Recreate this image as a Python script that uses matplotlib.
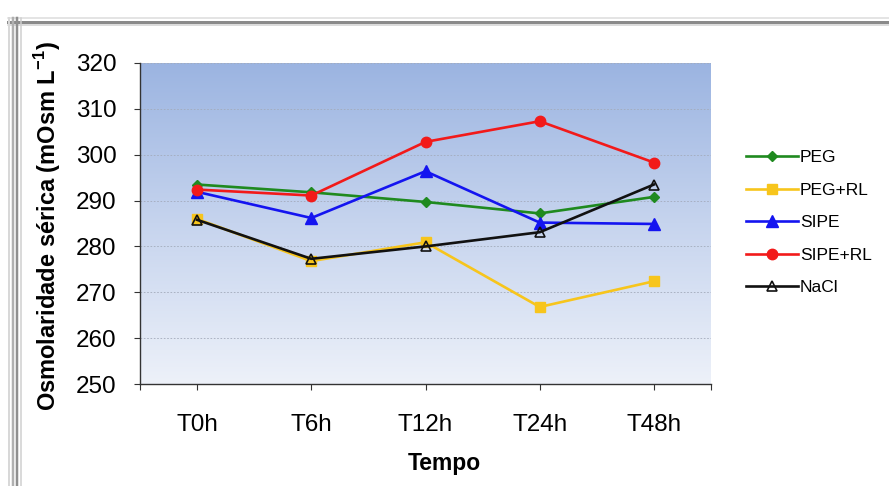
import numpy as np
import matplotlib
matplotlib.use("Agg")
import matplotlib.pyplot as plt
from matplotlib.lines import Line2D
from matplotlib.colors import LinearSegmentedColormap

plt.rcParams['font.family'] = ['Liberation Sans', 'DejaVu Sans']
plt.rcParams['mathtext.fontset'] = 'custom'
plt.rcParams['mathtext.rm'] = 'Liberation Sans'
plt.rcParams['mathtext.bf'] = 'Liberation Sans:bold'

# Data
categories = ["T0h", "T6h", "T12h", "T24h", "T48h"]
peg = [293.5, 291.8, 289.7, 287.2, 290.8]
peg_rl = [286.0, 276.8, 280.9, 266.8, 272.4]
sipe = [291.9, 286.2, 296.4, 285.2, 284.9]
sipe_rl = [292.4, 291.1, 302.8, 307.3, 298.3]
nacl = [285.8, 277.3, 280.0, 283.1, 293.5]
y_ticks = [250, 260, 270, 280, 290, 300, 310, 320]

W, H = 889, 486
fig = plt.figure(figsize=(W / 100, H / 100), dpi=100)
fig.patch.set_facecolor("white")


def fx(px):
    return px / W


def fy(py):
    return 1 - py / H


# Window-like frame (top and left bevel)
for yy, c, lw in [(18.5, "#dcdcdc", 1.5), (22, "#8a8a8a", 3.0), (25, "#d0d0d0", 1.5)]:
    fig.add_artist(Line2D([fx(8), 1], [fy(yy), fy(yy)], color=c, lw=lw * 0.72,
                          transform=fig.transFigure))
for xx, c, lw in [(9, "#d8d8d8", 2.0), (13, "#b0b0b0", 2.5), (17, "#8f8f8f", 2.5), (20.5, "#cfcfcf", 1.5)]:
    fig.add_artist(Line2D([fx(xx), fx(xx)], [fy(18), 0], color=c, lw=lw * 0.72,
                          transform=fig.transFigure))

left, right, top, bottom = 140, 711, 63, 384
ax = fig.add_axes([fx(left), fy(bottom), (right - left) / W, (bottom - top) / H])

x = np.arange(len(categories))
ax.set_xlim(-0.5, len(categories) - 0.5)
ax.set_ylim(250, 320)

# Background gradient inside the plot area
cmap = LinearSegmentedColormap.from_list("bg", ["#edf1f9", "#c6d4ee", "#9bb4e1"])
grad = np.linspace(0, 1, 256).reshape(-1, 1)
ax.imshow(grad, cmap=cmap, origin="lower", aspect="auto",
          extent=[-0.5, len(categories) - 0.5, 250, 320], zorder=0)

for yv in y_ticks[1:]:
    ax.axhline(yv, color="#a3abbb", lw=0.6, ls=(0, (2, 2)), zorder=1)

lw = 1.9
ax.plot(x, peg, color="#1f8a1f", lw=lw, marker="D", ms=5, mec="#1f8a1f", label="PEG", zorder=3)
ax.plot(x, peg_rl, color="#f7c51c", lw=lw, marker="s", ms=7, mec="#f7c51c", label="PEG+RL", zorder=3)
ax.plot(x, sipe, color="#1414f0", lw=lw, marker="^", ms=8, mec="#1414f0", label="SIPE", zorder=3)
ax.plot(x, sipe_rl, color="#f21a1a", lw=lw, marker="o", ms=7.5, mec="#f21a1a", label="SIPE+RL", zorder=3)
ax.plot(x, nacl, color="#111111", lw=lw, marker="^", ms=7, mfc="none", mec="#111111",
        mew=1.2, label="NaCl", zorder=4)

ax.set_yticks(y_ticks)
ax.set_xticks(x)
ax.set_xticklabels(categories)
ax.set_xticks([-0.5, len(categories) - 0.5], minor=True)
ax.tick_params(axis="y", direction="out", length=4, width=0.8, pad=13, labelsize=17.5, color="#333333")
ax.tick_params(axis="x", which="both", direction="out", length=4, width=0.8, pad=17.5,
               labelsize=17.5, color="#333333")

for s in ["top", "right"]:
    ax.spines[s].set_visible(False)
for s in ["left", "bottom"]:
    ax.spines[s].set_color("#333333")
    ax.spines[s].set_linewidth(1.0)

fig.text(fx(444), fy(463), "Tempo", ha="center", va="center", fontsize=16.5, fontweight="bold")
fig.text(fx(48), fy(226), r"Osmolaridade sérica (mOsm L$^{\mathbf{-1}}$)", ha="center",
         va="center", rotation=90, fontsize=17, fontweight="bold")

leg = fig.legend(loc="upper left", bbox_to_anchor=(fx(739), fy(143)), frameon=False,
                 fontsize=12.5, handlelength=3.0, labelspacing=1.0, handletextpad=0.1,
                 borderaxespad=0)

fig.savefig("out.png", dpi=100)
